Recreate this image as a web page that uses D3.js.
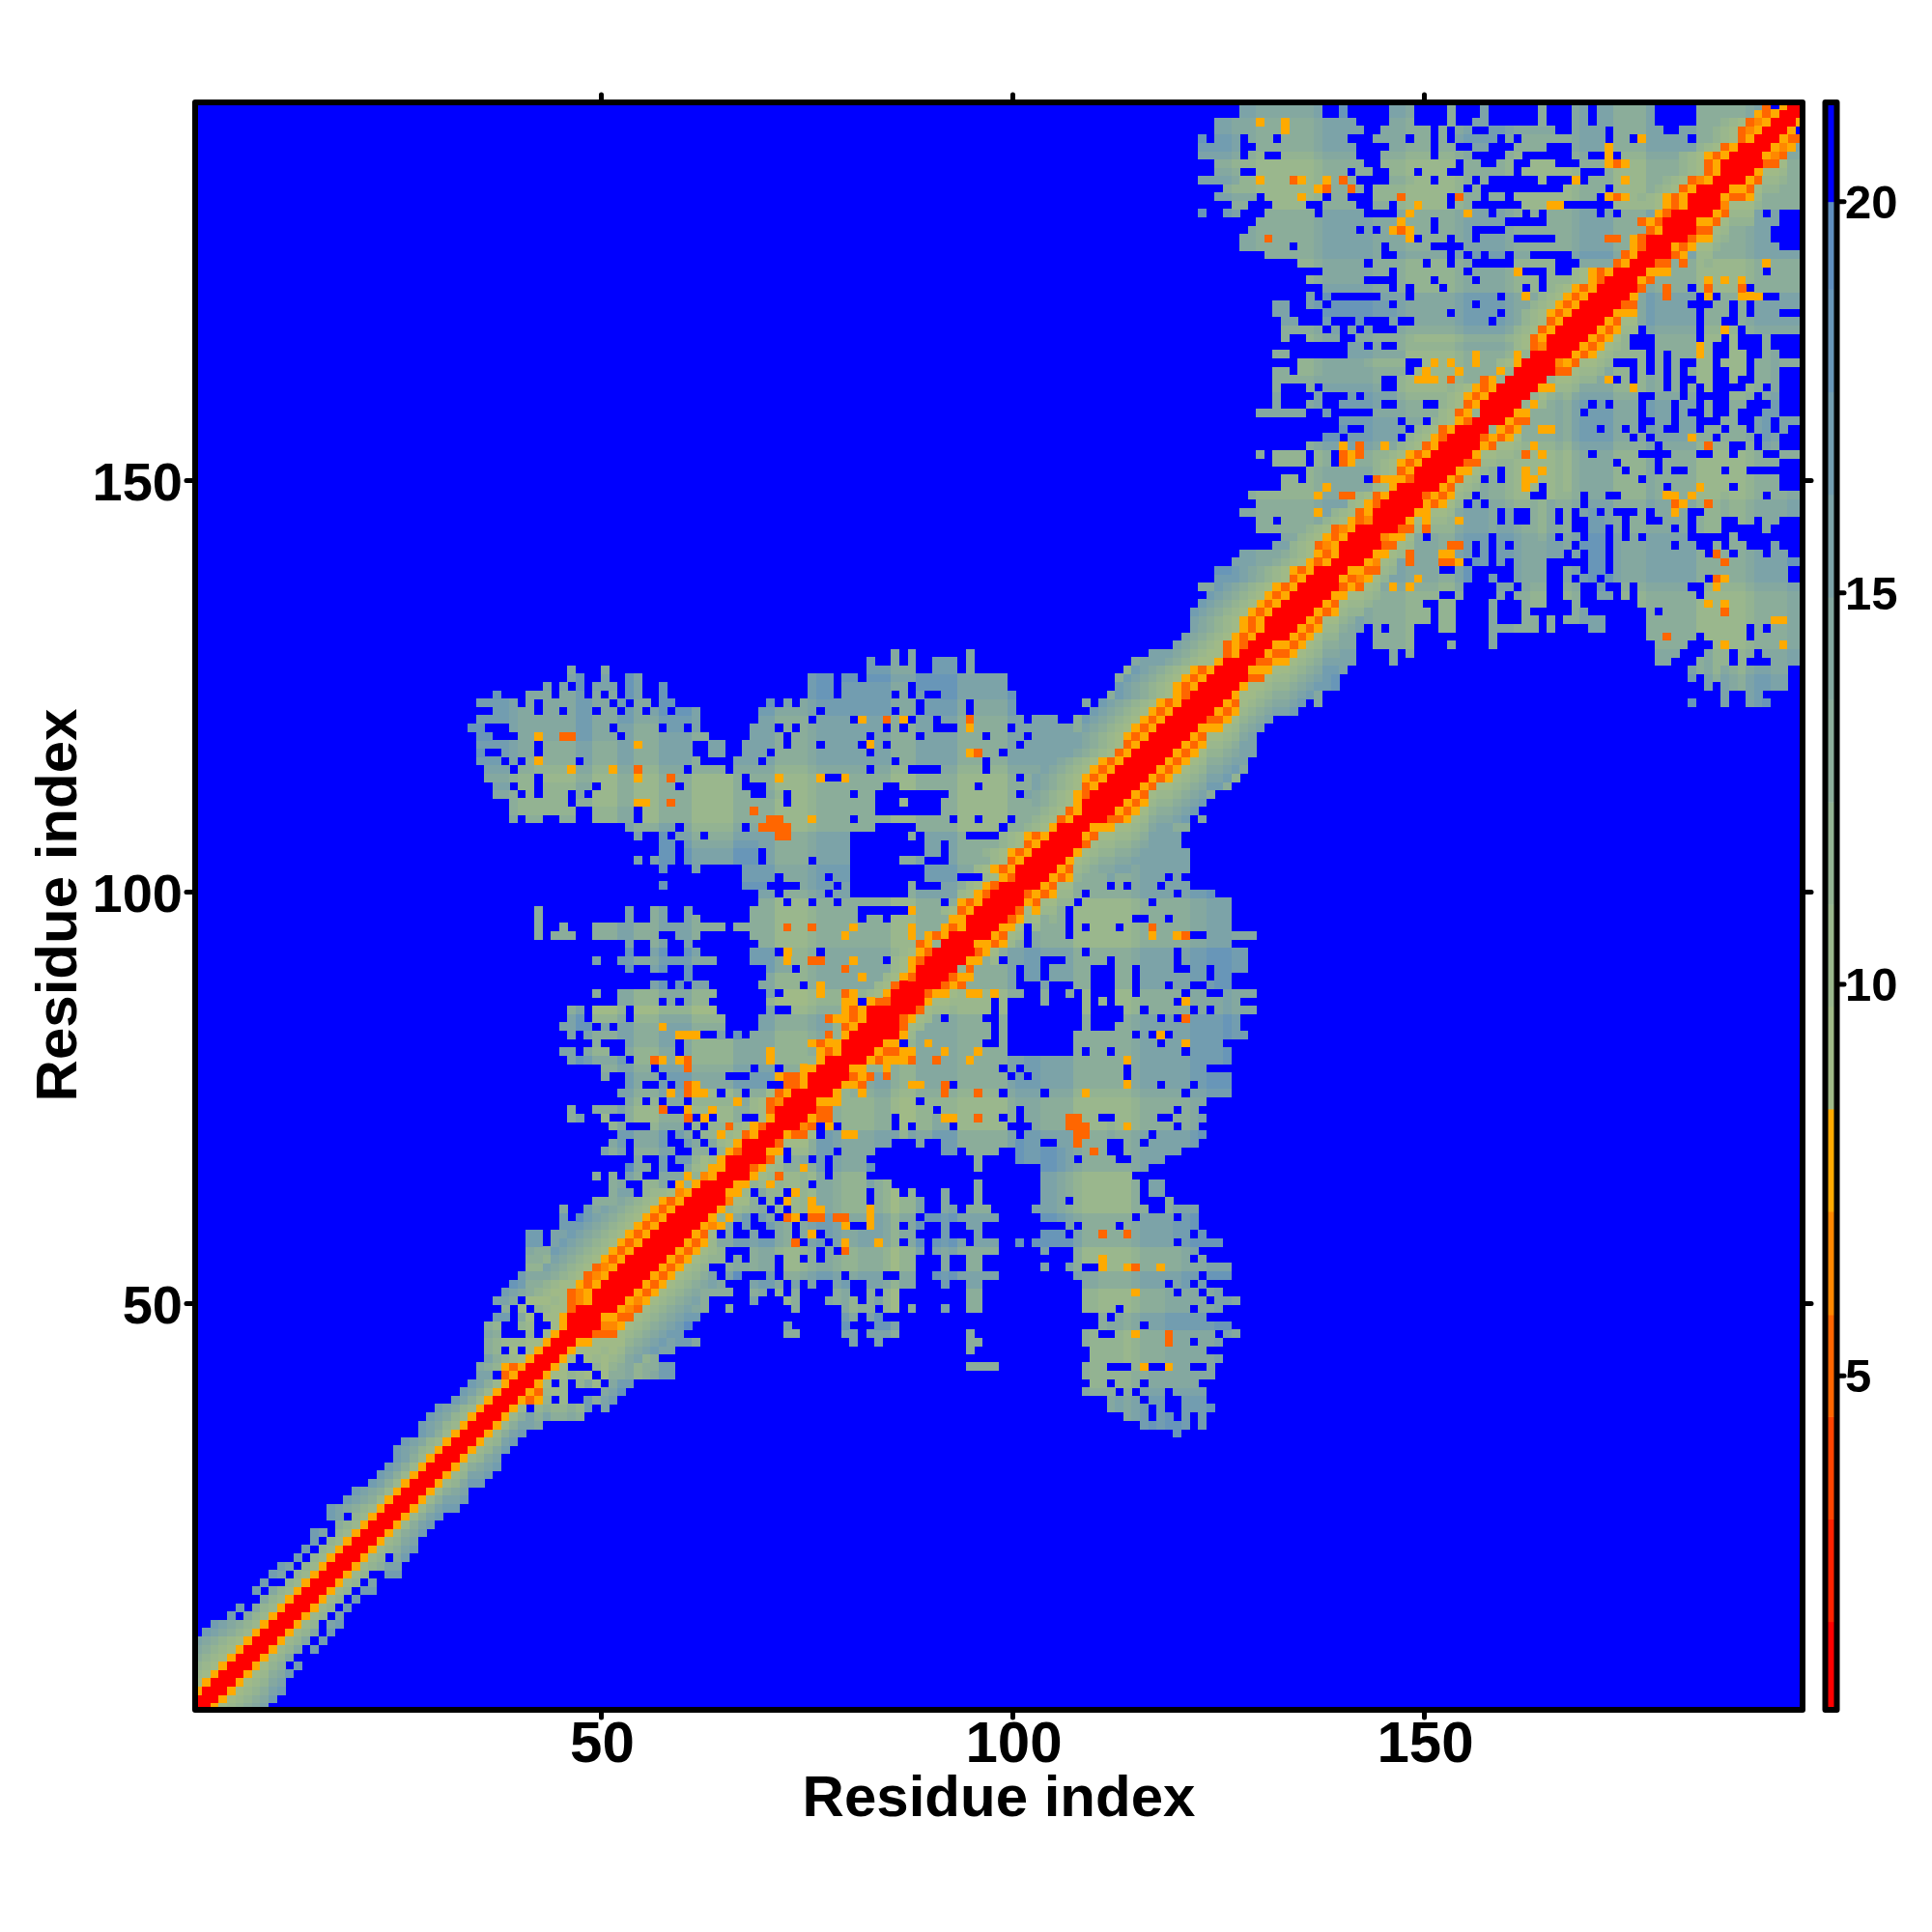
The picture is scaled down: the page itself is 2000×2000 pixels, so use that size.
<!DOCTYPE html>
<html><head><meta charset="utf-8">
<script src="https://cdnjs.cloudflare.com/ajax/libs/d3/7.8.5/d3.min.js"></script>
<style>html,body{margin:0;background:#fff}text{font-family:"Liberation Sans",Arial,sans-serif;font-weight:700;fill:#000}</style>
</head><body><div id="c"></div>
<script>
// Colour bands of the key (distance upper bounds and colours)
const levelBounds=[1.86,3.17,4.48,5.78,7.1,8.41,9.72,11.02,12.33,13.64,14.95,16.26,17.57,18.88,20];
const levelColors=["#ff0000","#ff2200","#ff4400","#ff6600","#ff8800","#ffaa00","#a0ba87","#9ab78d","#93b392","#8bad9a","#84a8a0","#7ca3a8","#729db0","#6896b8","#5f8ebf","#0000ff"];
// Symbols used in the rows below and the distance they stand for
const symbols={r:1.5,e:5.2,o:6.5,y:7.8,"1":9.1,"2":10.4,"3":11.7,"4":13,"5":14.3,"6":15.6,"7":16.9,"8":18.2,"9":19.4,".":21};
const tickLabels=[50,100,150];
const keyTicks=[5,10,15,20];
const mapCells=194;
const axisEnd=195.6;
// Residue stretches that read paler (-1) or bluer (+1) across the map: [from, to, shift]
const residueStripes=[[33,38,1],[40,46,-1],[47,48,1],[49,51,-1],[52,53,1],[54,56,-1],[57,60,1],[61,65,-1],[66,70,1],[71,74,-1],[76,84,1],[85,87,-1],[88,92,1],[93,98,-1],[99,106,1],[107,113,-1],[115,125,1],[129,135,-1],[137,142,1],[147,152,-1],[154,158,1],[160,166,-1],[168,171,1],[172,175,-1],[176,181,1],[182,187,-1],[189,194,1]];
// Bands next to the diagonal, read row by row: [row, cells ending on the diagonal]
const diagonalRows=[
[1,"r"],[2,"rr"],[3,"yrr"],[4,"1yrr"],[5,"21yrr"],[6,"321yrr"],[7,"4321yrr"],[8,"54321yrr"],[9,"654321yrr"],[10,"765432yrr"],[11,"765432yrr"],[12,"7.532yrr"],[13,"7.532yrr"],[14,"532yrr"],[15,"7.532yrr"],[16,"7..32yrr"],[17,"76.32yrr"],[18,"76.32yrr"],[19,"7.32yrr"],[20,"7.32yrr"],
[21,"7.32yrr"],[22,"76.32yrr"],[23,"432yrr"],[24,"76.32yrr"],[25,"765432yrr"],[26,"76542yrr"],[27,"76542yrr"],[28,"7642yrr"],[29,"7642yrr"],[30,"7642yrr"],[31,"7642yrr"],[32,"76532yrr"],[33,"76532yrr"],[34,"7642yrr"],[35,"76532yrr"],[36,"76532yrr"],[37,"76532yrr"],[38,"7642yrr"],[39,"7642yrr"],[40,"7642yrr"],
[41,"66.eyrr"],[42,"543yeyrr"],[43,"64321yrr"],[44,"43.1.1yrr"],[45,"4322211yrr"],[46,"54...3.2yrr"],[47,"43..32..1yrr"],[48,"1.11yrrr"],[49,"3211errr"],[50,"21eoyrr"],
[51,"3211eoyrrr"],[52,"43211yeyrrr"],[53,"54321eoyrrr"],[54,"654321eoyrrr"],[55,"654321yeyrrr"],[56,"7654321yeyrrr"],[57,"7654321yeyrrr"],[58,"7654321yeyrrr"],[59,"7654321yeyrrr"],[60,"7654321yeyrrr"],
[61,"654321yeyrrr"],[62,"54321yeyrrr"],[63,"3221oyrrr"],[64,"y3yrrr"],[65,"y3oyrr"],[66,"21yyrr"],[67,"312yrrr"],[68,"3yerr"],[69,"1yrrr"],[70,"21eyrr"],
[71,"21yerr"],[72,"1yrr"],[73,"21errr"],[74,"21eorrr"],[75,"1eyrrr"],[76,"eeyrr"],[77,"eeyrrr"],[78,"yyrrr"],[79,"3yrrr"],[80,"yeyrr"],
[81,"yyrrr"],[82,"3yrrr"],[83,"3eyrrr"],[84,"yeyrrr"],[85,"yeyrrrr"],[86,"yeerr"],[87,"21yrrr"],[88,"21errr"],[89,"21yerr"],[90,"21yrrr"],
[91,"21yerrr"],[92,"21yerrr"],[93,"ey3rrr"],[94,"yeyrrr"],[95,"yeyrr"],[96,"yyrrr"],[97,"21eyrrr"],[98,"yeyrrr"],[99,"21yerrr"],[100,"21yerrr"],
[101,"21yerr"],[102,"21yeyrrr"],[103,"21eyrrr"],[104,"321yeyrrr"],[105,"321eyrrr"],[106,"321yeyrrr"],[107,"4321yrrr"],[108,"4321eyrr"],[109,"4321eyrr"],[110,"54321yrrr"],
[111,"654321yerrr"],[112,"654321eyrrr"],[113,"654321yeyrrr"],[114,"654321yeyrrr"],[115,"654321yeyrrr"],[116,"654321eyrrr"],[117,"654321eyrrr"],[118,"654321yeyrrr"],[119,"654321yeyrrr"],[120,"7654321yeyrrr"],
[121,"7654321yeyrrr"],[122,"7654321yeyrrr"],[123,"7654321yerrr"],[124,"7654321yeyrrr"],[125,"7654321yeyrrr"],[126,"7654321yeyrrr"],[127,"6543211yrrr"],[128,"6543211eyrr"],[129,"654321eyerr"],[130,"654321yeyrr"],
[131,"654321yeyrr"],[132,"654321yeyrrr"],[133,"7654321yeyrrr"],[134,"7654321yeyrrr"],[135,"7654321yeyrrr"],[136,"7654321yeyrrr"],[137,"7654321eyrrr"],[138,"654321yeyrrr"],[139,"54321yeyrr"],[140,"4321yeyrr"],
[141,"321eoyrrr"],[142,"321yeyrrr"],[143,"321eoyrrr"],[144,"321yeorr"],[145,"321eyrrr"],[146,"21yerrr"],[147,"21eyrrr"],[148,"21yrrr"],[149,"eyyyerr"],[150,"321eyrrr"],
[151,"321yeyrrr"],[152,"321yeyrrr"],[153,"321eyrrr"],[154,"321yerrr"],[155,"321eyrrr"],[156,"321yerr"],[157,"21ey3rr"],[158,"321eyrrr"],[159,"321yeyrrr"],[160,"321yeyrrr"],
[161,"ey3rrr"],[162,"y3rrr"],[163,"21yrrr"],[164,"y3rrr"],[165,"21eorr"],[166,"321eyrrr"],[167,"321eyrrr"],[168,"321eyrrr"],[169,"321yeyrrr"],[170,"321yeyrrr"],
[171,"321yeyrrr"],[172,"321yeyrrr"],[173,"21yerrr"],[174,"21yeyrrr"],[175,"eyrr"],[176,"eyrr"],[177,"yerr"],[178,"yerrr"],[179,"eyrr"],[180,"eyerrr"],
[181,"yerrr"],[182,"21yeyrr"],[183,"321yeyrrr"],[184,"321eyrrr"],[185,"321eoyrr"],[186,"321eyrr"],[187,"321eyrrr"],[188,"321yeyrrr"],[189,"321eyrrr"],[190,"321eyrr"],
[191,"321eoyrr"],[192,"321eoyrr"],[193,"yeyrr"],[194,"e.yrr"]
];
// Areas away from the diagonal, read row by row: "a-b:level" area, ".a-b" hole, "e/o/y a" single hot cell
const areaRows=[
[48,"37-40:5 41:2 43-44:2 .39"],[49,"38-44:4 .39 .41"],[50,"37-39:6 41-45:3 46:e 47:o"],[51,"38-40:7 41:6 43-47:4"],[52,"39-40:7 41-47:4 .42 .43"],[53,"40:7 41-44:5 46-48:3 .45"],[54,"41-49:5"],[55,"41-42:6 43-50:5"],[56,"41:7 42-44:6 45-51:5"],[57,"41-42:7 44-45:6 46-52:5"],[58,"41-42:7 44-46:6 47-53:5"],[59,"45-47:7 48-54:5"],[60,"45:7 47-48:7 49-51:6 52-55:5"],
[61,"45:7 48-49:7 50-52:6 53-56:5"],[62,"49-53:6 54-57:5 66:3"],[63,"51-57:6 .54-55"],[64,"51:6 52-60:5 .53 .54 .58"],[65,"49:6 51-56:6 57-61:5 .52 .55 .56"],[66,"53:7 54-59:5 60-62:3 .56 .58 .59"],[67,"54-62:5 .55 .56 .58 .61"],[68,"50:6 51-62:4 .53 .59 .60"],[69,"51-63:5 .53 .58 .59 64:2 .62"],[70,"52-60:5 60-64:3 .61 .58 y64 y65"],
[71,"51-64:5 .53-55 .60 .62 e65 y66"],[72,"46-47:6 50-66:4 .51 .52 .61 .63 e60 y62"],[73,"46:6 49-52:6 53-67:4 .59 .58 e57 y60 y63"],[74,"53-67:5 .57 .60 .55 y66"],[75,"52-60:5 61-69:3 y58 e60 .64 .67 y61 y62"],[76,"53-69:5 .55-56 .58 y60 e60 y61"],[77,"50-73:5 .51-52 .57 .65-67 y71 e72"],[78,"50-73:4 .56 e60 .68 .71"],[79,"46-47:6 48-52:5 53-74:3 .53 e56 y57 y59 e60 y70"],[80,"45-46:6 48-75:3 .59 y70 .51 .52"],
[81,"49-58:4 60-76:3 .50-52 .59 e76 y75"],[82,"46:6 48-61:4 .62 64:6 66:6 68-77:3 y59 y60 y61 e77"],[83,"45-48:6 50:6 52-64:4 y57 69-79:4 e78"],[84,"46-47:6 49-64:3 .53 y79 y80 e77 y78 69-76:4"],[85,"46-47:6 49-63:3 .53 70:6 73-81:4 e79 y80 e82"],[86,"52-54:5 55-58:5 60-62:5 70-80:3 y79 y80 y83 .57"],[87,"49:6 52-58:5 59-63:5 70:6 72-84:3 y76 e79 y80 .83 e84"],[88,"56-57:6 59:6 61-62:6 69-85:3 .74 y76"],[89,"60:6 70-86:3 y81"],[90,"53:6 56-57:6 60:6 70-72:5 74-85:3 e79 e86"],
[91,"49:6 52-63:5 68-72:5 73-83:3 y72 e75 e76 y80"],[92,"53:6 56-57:6 60-61:6 68-71:5 73-88:3 y72 .71 .76"],[93,"53:6 56-57:6 60:6 69-90:4"],[94,"42:6 44-46:6 49-51:6 52-55:6 56:6 59-61:6 68-91:4 y79 y87"],[95,"42:6 45:6 49-51:6 52-64:6 66-92:4 e72 e75 y80 y87"],[96,"42:6 53:6 56-57:6 60-61:6 68-92:4 .81 .84"],[97,"42:6 53:6 56-57:6 60:6 68-93:4 .81-86 .93-95 y87"],[98,"69-94:4 .72 .75 .78 .91"],[99,"69-95:4 .71 .77 .80-86"],[100,"57:6 67-69:6 72:5 74-77:5 79-96:4 .70-72 .80-86 .88-90 .73"],
[101,"67-97:5 .71 .77 .80-88 .93-95"],[102,"57:6 61:6 67-98:5 .80-88"],[103,"54:6 56-58:6 60-64:6 65-68:6 70-75:4 76-99:4 .75 .80-85 .89-91"],[104,"57-58:6 60-64:6 65-68:6 70-100:4 .80-88 .91 .96"],[105,"57-58:6 60-68:5 69-101:4 .80-88 .91"],[106,"54:6 57:6 59-73:4 74-102:4 .58 .62 .80-86 .88 .94-97 .99 e71 e72"],[107,"53-58:6 60-72:5 e69 e70 e71 e72 73-103:4 .59 .67 .83-86 .87 .98"],[108,"39:6 41-42:6 45-46:6 49-53:5 54-72:4 73-104:4 .54 .80 .92 .95 .99 e70 e71 y75"],[109,"39-46:5 49-53:5 54-68:4 e68 e69 y70 69-105:4 .54 .83-86 .87-90"],[110,"39-45:5 47-67:4 y54 y55 e58 e69 y70 y71 68-106:4 .46 .72 .83-85 .87-90"],
[111,"37-39:5 41:5 43-45:5 47:5 49-67:4 70-72:5 73-107:4 .68-69 .72 .80 .83-91 .100 .104 .106"],[112,"37-38:6 40-41:5 43-48:5 50-58:4 60-66:4 70-108:4 .84 .85 .95"],[113,"36-41:5 43-66:4 y54 e58 68-109:4 y71 y76 .78 y79 .100 .104 .77"],[114,"36-38:5 40-41:5 42-59:4 y46 y51 e54 61-64:5 66-110:4 .82 .87-90 .96 .103"],[115,"35-37:5 39:5 41-46:4 48-61:4 y42 66-111:4 .47 .69 .85 .96"],[116,"35:6 38-41:5 43-60:4 63-64:6 67-112:4 .70 .82 .98 y94 e95 y108"],[117,"35-41:5 43-60:4 y54 63-64:6 67-112:4 .72 .76 .81 y82 .84 .100"],[118,"35-36:6 40-51:5 y42 e45 e46 53-62:4 68-113:4 .72 .82 .88 .96 .101"],[119,"34-35:6 39-50:5 52-56:4 58:5 59:5 61:6 68-113:4 .71 .73 .84 .86 .90-92 .99 y94 .109"],[120,"35-60:5 61:6 69-114:4 e84 y86 .75 .80 .87 .90 e94 .101 .105-106 y81"],
[121,"37-41:5 43-44:5 46-48:5 50-51:5 53-54:5 56-57:6 59-61:6 69-99:5 .76 .85 .88 .94"],[122,"35-39:5 41:5 43-50:5 52:5 54-55:5 57-58:6 70:6 72:6 74-99:5 108-116:5 .88 .94 .109"],[123,"37:6 41-43:5 45-47:5 49:5 51:5 53-54:6 57:6 75-77:6 79-84:5 86:5 88:5 91-99:6 111-118:4"],[124,"43:6 45:6 47:6 49-51:6 53-54:6 57:6 75-77:6 79-86:5 88-98:6 112-119:4"],[125,"46-47:6 50:6 53-54:6 75-77:6 79-80:6 82-94:6 95-98:6 112-120:4 .118"],[126,"46:6 50:6 82-87:6 90-92:6 94:6 113-120:4"],[127,"82:6 85:6 87:6 90-92:6 94:6 114-120:5"],[128,"85:6 87:6 94:6 116-123:5"],[129,"123-124:3"],
[130,"121-123:5 .124 125-126:4"],[131,"121-126:4"],[132,"122-124:5 126-128:4"],[133,"122-128:4"],[134,"123-127:5 129-130:4"],[135,"123-131:4"],[136,"122-132:4 .129"],[137,"124-133:5"],[138,"124-127:6 129-134:5"],[139,"126-135:5"],[140,"127-136:5"],
[141,"131-132:6 136-137:5 .138"],[142,"132-139:5 .138"],[143,"129-140:5 y137"],[144,"129-141:5 .131"],[145,"127-142:5 y136"],[146,"129-143:5"],[147,"128-144:5 y136 e139 e140"],[148,"132-145:5 y137"],[149,"132-146:5 .134 .142 .144"],[150,"135-147:5 .150 .155"],
[151,"131-134:5 136-148:4 y140 .138 e139 y140"],[152,"129:6 131-134:5 136-149:4 .135 .138 e139 y140 e141 e148"],[153,"135-150:5 y139 e141 y144 y150"],[154,"137-138:6 140-150:5 .146 .150"],[155,"139:6 142-150:5 .147"],[156,"139-152:5 .146 .149"],[157,"129-134:5 137:5 .135 143-153:4"],[158,"131:5 135-136:5 139-143:5 146-154:4 y149 .149 .150"],[159,"131:6 136:6 140:6 142-145:6 146-155:4 y153 y156 .156"],[160,"131:6 135:6 137-143:6 146-156:4"],
[161,"131-136:6 137-143:5 146-157:4 y149 y150 y152 e152 y156 y148"],[162,"131-132:6 134-148:5 .147 148-158:4 y149 y153"],[163,"134-141:5 142-159:4 .147 .150 y150 y152 y155 .148"],[164,"131-132:6 140-146:6 147-160:4 y155"],[165,"140-141:6 143:6 146-161:5"],[166,"132:6 135-138:5 140-147:5 148-162:4 .140"],[167,"132-136:5 138:5 140:5 142:5 146-163:5 .145"],[168,"132-133:6 137:5 141:6 145:5 147-164:5 .147 .157"],[169,"131-132:6 137-145:6 146-165:5 .152 .158 .163"],[170,"131-132:6 135-136:6 138-144:6 146-166:5 .155 .166"],
[171,"135:6 137:6 144-167:5 .147 .158 .161 y161 y167 e163"],[172,"137-144:6 146-168:5 .147 .151 .161 .163 .166"],[173,"135-141:5 146-169:5 .150 .155 .163"],[174,"137-144:5 146-170:5 .154 .160-163 .165-167 y160"],[175,"134-148:5 150-171:5 .142 .152 .155-159 .165-167"],[176,"130-143:4 146-172:5 .152 .154 .156 .159 .162-166"],[177,"127-143:4 145-173:4 .133 .150-153"],[178,"127-147:4 148-174:4 e130 .148 y147 .152 .155 .160-164 e171 e172 e174"],[179,"128-146:4 147-175:4 .141 y145 e146 y147 .143 .150 .155-158"],[180,"129-146:4 147-176:4 .150 .159-163 y146"],
[181,"122:6 125-126:5 130-141:4 146-156:4 158-177:4 .136 .161 .163 .170 y147 y154 .172"],[182,"126-127:5 131-140:4 143-144:5 146-178:4 .135 .136 .152 .155-160 .165-171 y148 y164 y165"],[183,"124-128:6 130-136:4 138-140:4 .140 143-179:4 e153 y134 .152 .156 .159 e146 .170 y171 e172 y173"],[184,"125-135:4 y136 137-141:4 143-180:4 .154 .156-165 .171 y136 e137 e140"],[185,"122-126:6 127-140:4 y129 e133 y134 y137 e139 145-147:5 148-181:4 .150 .155 .157-162 .164-168 y167 y173"],[186,"124-127:5 129-142:4 .140 .127 145-182:4 .148 .152 .153 .160 .168 .169 .170"],[187,"124-130:4 131-141:4 144-183:4 .153 .157 .160-161 .165-167 y171 y173 e172 .156"],[188,"122-126:5 128-129:4 132-140:4 144-184:4 .150 .155-158 .161-166 .169-172 y171"],[189,"122-126:5 129-140:4 145-149:4 151-185:4 .153 .154 .157-159 .164-166 .171 y171"],[190,"122:6 124-126:5 128-130:4 132-139:4 143-146:4 148-149:4 151:4 153-157:5 .158 159:4 161-170:4 .171 172-173:4 .174 y175 176-180:4 .181 182-187:4"],
[191,"124-141:4 y132 144-151:4 .150 .152 153-154:4 157-164:5 167-170:4 .171 172-177:4 180-188:4"],[192,"124-140:4 y129 y132 145-147:4 152:4 155-156:4 163:4 167-168:4 170-176:4 182-189:4"],[193,"127-136:5 139:6 145-147:5 152:4 156:4 163:4 167-168:4 170-176:4 182-190:4"],[194,"127-136:5 139:6 145-147:5 152:4 156:4 163:4 167-168:4 170-176:4 182-189:4"]
];

// Symmetric distance matrix filled from the rows
const stripe=new Map();
residueStripes.forEach(([a,b,s])=>{for(let i=a;i<=b;i++) stripe.set(i,s);});
const grid=new Map();
function put(c,r,ch){ if(c>=1&&c<=r) grid.set(c+"_"+r,ch); }
function putArea(c,r,lv){
  const shifted=Math.max(1,Math.min(9,+lv+(stripe.get(c)||0)+(stripe.get(r)||0)));
  put(c,r,String(shifted));
}
areaRows.forEach(([row,text])=>{
  text.split(/\s+/).forEach(tok=>{
    let m;
    if(m=tok.match(/^(\d+)(?:-(\d+))?:(\d)$/)){ for(let c=+m[1];c<=+(m[2]||m[1]);c++) putArea(c,row,m[3]); }
    else if(m=tok.match(/^\.(\d+)(?:-(\d+))?$/)){ for(let c=+m[1];c<=+(m[2]||m[1]);c++) put(c,row,"."); }
    else if(m=tok.match(/^([eoy])(\d+)$/)){ put(+m[2],row,m[1]); }
  });
});
diagonalRows.forEach(([row,near])=>{ [...near].forEach((ch,i)=>put(row-near.length+1+i,row,ch)); });
const cells=[];
grid.forEach((ch,key)=>{
  if(ch===".") return;
  const [c,r]=key.split("_").map(Number);
  cells.push({x:c,y:r,v:symbols[ch]});
  if(c!==r) cells.push({x:r,y:c,v:symbols[ch]});
});

const L=205,R=1863,T=109,B=1767;
const svg=d3.select("#c").append("svg").attr("width",2000).attr("height",2000).style("display","block");
const x=d3.scaleLinear().domain([1,mapCells]).range([L,R]);
const yCell=d3.scaleLinear().domain([1,mapCells]).range([B,T]);
const xAxisScale=d3.scaleLinear().domain([1,axisEnd]).range([L,R]);
const yAxisScale=d3.scaleLinear().domain([1,axisEnd]).range([B,T]);
const color=d3.scaleThreshold().domain(levelBounds).range(levelColors);
const cw=(R-L)/(mapCells-1);
svg.append("defs").append("clipPath").attr("id","plot").append("rect").attr("x",L).attr("y",T).attr("width",R-L).attr("height",B-T);
const g=svg.append("g").attr("clip-path","url(#plot)");
g.append("rect").attr("x",L).attr("y",T).attr("width",R-L).attr("height",B-T).attr("fill",color(21));
g.selectAll("rect.c").data(cells).join("rect").attr("class","c")
 .attr("x",d=>x(d.x)-cw/2).attr("y",d=>yCell(d.y)-cw/2).attr("width",cw+.4).attr("height",cw+.4)
 .attr("fill",d=>color(d.v)).attr("shape-rendering","crispEdges");
svg.append("rect").attr("x",202).attr("y",106).attr("width",1664).attr("height",1664).attr("fill","none").attr("stroke","#000").attr("stroke-width",6).attr("stroke-linejoin","round");

const tick=(x1,y1,x2,y2)=>svg.append("line").attr("x1",x1).attr("y1",y1).attr("x2",x2).attr("y2",y2).attr("stroke","#000").attr("stroke-width",5).attr("stroke-linecap","round");
tickLabels.forEach(t=>{
  const px=xAxisScale(t),py=yAxisScale(t);
  tick(px,1773,px,1778);tick(px,103,px,98);tick(199,py,193,py);tick(1869,py,1875,py);
  svg.append("text").attr("x",px+1).attr("y",1824).attr("text-anchor","middle").attr("font-size",60).text(t);
  svg.append("text").attr("x",189).attr("y",py+20).attr("text-anchor","end").attr("font-size",56).text(t);
});
svg.append("text").attr("x",1034).attr("y",1880).attr("text-anchor","middle").attr("font-size",60).text("Residue index");
svg.append("text").attr("transform","translate(79,937) rotate(-90)").attr("text-anchor","middle").attr("font-size",60).text("Residue index");

// colour key
const keyY=d3.scaleLinear().domain([0.77,21.23]).range([B,T]);
const edges=[0.77,...levelBounds,21.23];
levelColors.forEach((c,i)=>{
  svg.append("rect").attr("x",1892).attr("width",7).attr("y",keyY(edges[i+1])).attr("height",keyY(edges[i])-keyY(edges[i+1])+.5).attr("fill",c);
});
svg.append("rect").attr("x",1889.5).attr("y",106).attr("width",12).attr("height",1664).attr("fill","none").attr("stroke","#000").attr("stroke-width",6).attr("stroke-linejoin","round");
keyTicks.forEach(t=>{
  tick(1904,keyY(t),1909,keyY(t));
  svg.append("text").attr("x",1910).attr("y",keyY(t)+17).attr("font-size",49).text(t);
});
</script></body></html>
